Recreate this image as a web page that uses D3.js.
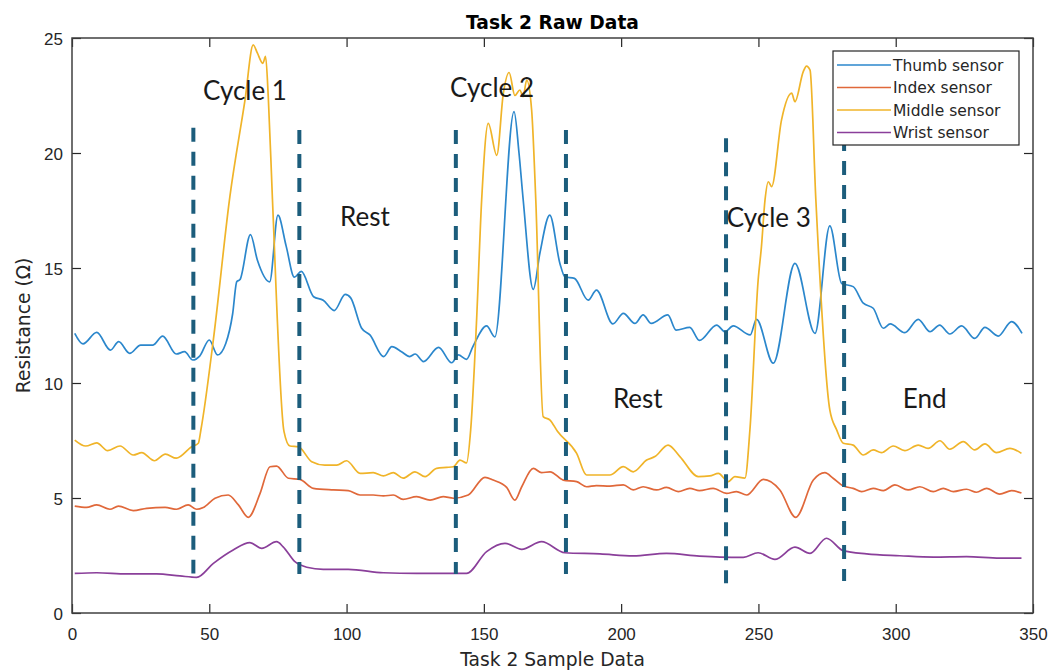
<!DOCTYPE html>
<html>
<head>
<meta charset="utf-8">
<script src="https://cdn.jsdelivr.net/npm/d3@7"></script>
<style>
  html, body { margin: 0; padding: 0; background: #fff; }
  svg { display: block; font-family: 'DejaVu Sans', sans-serif; }
</style>
</head>
<body>
<div id="chart"></div>
<script>
// values: sample index and resistance
const thumbX = [1, 4, 9, 14, 17, 21, 25, 29.5, 33, 38, 41, 44, 46.5, 50, 53, 56, 58.5, 60, 61.2, 65, 67.5, 72, 75, 78, 81, 83.5, 88, 91.5, 95.5, 99.5,
  101.5, 105.5, 108.5, 113.5, 116.5, 120, 123, 125, 128, 133.5, 138.3, 140.7, 143.7, 146, 151, 154, 161, 162.8, 164.3, 168, 170.4, 174, 177.7, 179.5,
  183, 188, 191, 197, 200.8, 205, 208, 211, 217, 220, 225, 228.5, 234.8, 237.8, 240.8, 247, 249.3, 255.4, 263.3, 270.6, 276, 280.3, 284.5, 288.2,
  291.8, 295.5, 298, 303.3, 308.2, 312.5, 316, 319.7, 324, 328.8, 332.5, 337.3, 342.2, 346]
const thumbY = [12.16, 11.7, 12.2, 11.43, 11.8, 11.29, 11.65, 11.65, 12.04, 11.26, 11.36, 11.0, 11.17, 11.87, 11.22, 11.72, 13.0, 14.4, 14.5, 16.45, 15.35, 14.4, 17.3, 15.95, 14.6, 14.85, 13.75, 13.6, 13.15, 13.85,
  13.7, 12.38, 12.09, 11.15, 11.58, 11.36, 11.15, 11.26, 10.93, 11.55, 10.88, 11.22, 11.03, 11.58, 12.48, 12.0, 21.8, 20.0, 18.0, 14.07, 15.64, 17.3, 15.2, 14.62,
  14.55, 13.6, 14.04, 12.57, 13.03, 12.59, 12.96, 12.59, 12.96, 12.3, 12.42, 11.85, 12.52, 12.23, 12.48, 12.09, 12.77, 10.86, 15.2, 12.16, 16.83, 14.33, 14.19, 13.47,
  13.25, 12.38, 12.57, 12.19, 12.77, 12.23, 12.52, 12.13, 12.48, 11.94, 12.42, 12.04, 12.67, 12.16]

const indexX = [1, 5.3, 9, 13.8, 16.9, 22.3, 27.2, 33.9, 38.1, 42.3, 45.4, 47.8, 52.1, 56.9, 60.6, 64.2, 68.5, 72.1, 74.5, 78.8, 83, 87.9, 95.2, 100.6,
  104.9, 109.7, 113.4, 117, 120.6, 125.5, 130.4, 135.2, 138.9, 144.3, 150.4, 153.4, 158.3, 161.3, 163.8, 168, 171, 174.1, 178.9, 183.8, 187.4, 191,
  195.9, 200.8, 204.4, 208, 212.9, 216.5, 220.8, 225, 228.5, 233.5, 238.4, 242, 245.7, 251.8, 257.8, 263.6, 270, 274.2, 277.2, 280.9, 284.5, 287.6,
  291.8, 295.5, 299.7, 304.5, 308.8, 313.7, 317.3, 321, 325.8, 329.4, 333.1, 337.9, 342.2, 345.8]
const indexY = [4.65, 4.59, 4.7, 4.51, 4.65, 4.45, 4.55, 4.59, 4.51, 4.7, 4.51, 4.59, 4.99, 5.13, 4.7, 4.16, 5.2, 6.36, 6.39, 5.86, 5.81, 5.42, 5.35, 5.32,
  5.13, 5.13, 5.09, 5.13, 4.94, 5.06, 4.91, 5.06, 4.99, 5.13, 5.9, 5.78, 5.46, 4.91, 5.49, 6.29, 6.1, 6.14, 5.78, 5.71, 5.49, 5.54,
  5.52, 5.57, 5.35, 5.49, 5.35, 5.46, 5.28, 5.42, 5.32, 5.42, 5.2, 5.28, 5.13, 5.81, 5.35, 4.16, 5.78, 6.1, 5.86, 5.52, 5.42, 5.28,
  5.42, 5.32, 5.57, 5.35, 5.49, 5.28, 5.42, 5.28, 5.38, 5.25, 5.42, 5.17, 5.32, 5.22]

const middleX = [1, 5, 9, 13, 17.5, 22.3, 25.4, 30, 34, 38, 43.6, 46, 47, 51.5, 57.5, 63, 66, 67.5, 69.5, 70.5, 71.5, 73, 77.2, 79.4, 82.4, 87.3, 92.1, 96.4, 100,
  104.9, 109.7, 113.4, 117, 120.6, 124.9, 128.6, 132.8, 136.4, 138.9, 141.3, 143.7, 145.2, 147.3, 149.2, 151.6, 154.7, 157.1, 159.2, 161.3, 163.1, 164.3,
  165.6, 167.4, 168.9, 171.6, 174.1, 176.8, 183.8, 187.4, 195.9, 200.8, 204.4, 209.3, 212.3, 217.1, 221.4, 228.1, 232.3, 235.4, 239, 241.4, 245.1,
  246.9, 249.9, 251.1, 252.4, 253.6, 254.8, 258.4, 262.1, 263.3, 266.3, 267.5, 268.8, 270.9, 276, 278.5, 280.9, 284.5, 288.2, 291.8, 294.8, 299.1,
  303.3, 308.2, 311.8, 316.1, 319.7, 324.6, 328.8, 332.5, 336.7, 341.6, 345.8]
const middleY = [7.52, 7.26, 7.4, 7.06, 7.26, 6.87, 6.97, 6.62, 6.91, 6.73, 7.23, 7.38, 8.0, 11.9, 18.1, 22.3, 24.7, 24.35, 23.9, 24.2, 22.4, 18.0, 7.9, 7.26, 7.23, 6.58, 6.43, 6.43, 6.62,
  6.07, 6.1, 5.96, 6.1, 5.86, 6.14, 5.93, 6.29, 6.33, 6.36, 6.65, 6.53, 7.96, 12.6, 17.96, 21.29, 19.9, 22.6, 23.5, 22.5, 22.74, 22.45,
  23.17, 21.87, 18.0, 8.54, 8.39, 7.9, 6.94, 6.0, 6.0, 6.36, 6.14, 6.65, 6.8, 7.3, 6.8, 5.93, 5.96, 6.07, 5.71, 5.93, 5.86,
  7.96, 14.48, 15.93, 17.96, 18.75, 18.54, 21.43, 22.6, 22.23, 23.53, 23.78, 23.6, 18.0, 8.83, 7.96, 7.38, 7.3, 6.87, 7.09, 6.97, 7.26,
  7.06, 7.3, 7.16, 7.49, 7.12, 7.45, 7.09, 7.35, 6.97, 7.16, 6.94]

const wristX = [1, 9, 19.9, 30.8, 39.3, 45.4, 51.5, 58.7, 64.8, 69.1, 74.5, 76.9, 81.2, 85.5, 91.5, 100.6, 113.4, 125.5, 143.7, 151, 157.7, 163.8, 171,
  179.5, 192.3, 204.4, 216.5, 228.5, 236, 244.5, 249.9, 256, 263.3, 268.8, 274.8, 280.9, 289.4, 301.5, 313.7, 325.8, 337.9, 345.8]
const wristY = [1.72, 1.75, 1.7, 1.7, 1.61, 1.55, 2.16, 2.74, 3.06, 2.81, 3.1, 2.88, 2.23, 1.99, 1.9, 1.9, 1.75, 1.72, 1.72, 2.67, 3.03, 2.77, 3.1,
  2.62, 2.57, 2.48, 2.59, 2.47, 2.43, 2.42, 2.62, 2.33, 2.86, 2.59, 3.25, 2.71, 2.57, 2.49, 2.43, 2.45, 2.39, 2.39]

const seriesNames = ['Thumb sensor', 'Index sensor', 'Middle sensor', 'Wrist sensor']

// dashed phase markers
const markX = [44.2, 82.8, 139.8, 179.9, 238.2, 281.2]
const markTop = [21.1, 21.0, 21.0, 21.0, 20.64, 20.7]
const markBottom = [1.72, 1.7, 1.7, 1.7, 1.29, 1.39]

// phase annotations
const noteText = ['Cycle 1', 'Cycle 2', 'Rest', 'Rest', 'Cycle 3', 'End']
const noteX = [47.7, 137.7, 97.6, 197, 238.5, 302.6]
const noteY = [22.3, 22.43, 16.83, 8.91, 16.78, 8.91]

const xTicks = [0, 50, 100, 150, 200, 250, 300, 350]
const yTicks = [0, 5, 10, 15, 20, 25]

const width = 1055, height = 672
const margin = { top: 38, right: 22, bottom: 59, left: 72 }
const innerW = width - margin.left - margin.right
const innerH = height - margin.top - margin.bottom

const colors = ['#2b87cc', '#e0683a', '#f0b429', '#8a3f9a']
const series = [
  { name: seriesNames[0], xs: thumbX, ys: thumbY },
  { name: seriesNames[1], xs: indexX, ys: indexY },
  { name: seriesNames[2], xs: middleX, ys: middleY },
  { name: seriesNames[3], xs: wristX, ys: wristY }
]

const x = d3.scaleLinear().domain([0, 350]).range([0, innerW])
const y = d3.scaleLinear().domain([0, 25]).range([innerH, 0])

const svg = d3.select('#chart').append('svg')
  .attr('width', width)
  .attr('height', height)

const g = svg.append('g')
  .attr('transform', `translate(${margin.left},${margin.top})`)

// axes, MATLAB style: ticks pointing in, box all round
const axisColor = '#262626'
const styleAxis = sel => {
  sel.select('.domain').remove()
  sel.selectAll('.tick line').attr('stroke', axisColor).attr('stroke-width', 1.2)
  sel.selectAll('.tick text').attr('fill', axisColor).attr('font-size', 17)
}

g.append('g')
  .attr('transform', `translate(0,${innerH})`)
  .call(d3.axisBottom(x).tickValues(xTicks).tickSizeInner(-9).tickSizeOuter(0).tickPadding(15))
  .call(styleAxis)

g.append('g')
  .call(d3.axisLeft(y).tickValues(yTicks).tickSizeInner(-9).tickSizeOuter(0).tickPadding(9))
  .call(styleAxis)
  .selectAll('.tick text').attr('dy', '0.4em')

g.append('g')
  .call(d3.axisTop(x).tickValues(xTicks).tickSizeInner(-9).tickSizeOuter(0).tickFormat(''))
  .call(styleAxis)

g.append('g')
  .attr('transform', `translate(${innerW},0)`)
  .call(d3.axisRight(y).tickValues(yTicks).tickSizeInner(-9).tickSizeOuter(0).tickFormat(''))
  .call(styleAxis)

g.append('rect')
  .attr('width', innerW)
  .attr('height', innerH)
  .attr('fill', 'none')
  .attr('stroke', '#404040')
  .attr('stroke-width', 1.5)

// sensor lines
const line = d3.line()
  .x(d => x(d[0]))
  .y(d => y(d[1]))
  .curve(d3.curveMonotoneX)

series.forEach((s, i) => {
  g.append('path')
    .datum(s.xs.map((v, j) => [v, s.ys[j]]))
    .attr('fill', 'none')
    .attr('stroke', colors[i])
    .attr('stroke-width', 1.7)
    .attr('stroke-linejoin', 'round')
    .attr('d', line)
})

// dashed markers
g.selectAll('.mark')
  .data(markX)
  .join('line')
    .attr('class', 'mark')
    .attr('x1', d => x(d))
    .attr('x2', d => x(d))
    .attr('y1', (d, i) => y(markTop[i]))
    .attr('y2', (d, i) => y(markBottom[i]))
    .attr('stroke', '#1c5d7c')
    .attr('stroke-width', 4)
    .attr('stroke-dasharray', '14,10')

// annotations
g.selectAll('.note')
  .data(noteText)
  .join('text')
    .attr('class', 'note')
    .attr('x', (d, i) => x(noteX[i]))
    .attr('y', (d, i) => y(noteY[i]))
    .attr('font-family', 'Lato, sans-serif')
    .attr('font-size', 26)
    .attr('fill', '#1a1a1a')
    .text(d => d)

// legend
const legend = svg.append('g').attr('transform', 'translate(833,51)')
legend.append('rect')
  .attr('width', 186)
  .attr('height', 94)
  .attr('fill', '#fff')
  .attr('stroke', axisColor)
  .attr('stroke-width', 1.2)

const rows = legend.selectAll('.row')
  .data(series)
  .join('g')
    .attr('transform', (d, i) => `translate(0,${14 + i * 22.5})`)

rows.append('line')
  .attr('x1', 4).attr('x2', 58)
  .attr('stroke', (d, i) => colors[i])
  .attr('stroke-width', 1.7)

rows.append('text')
  .attr('x', 60)
  .attr('dy', '0.36em')
  .attr('font-size', 15.5)
  .attr('fill', axisColor)
  .text(d => d.name)

// title and axis labels
svg.append('text')
  .attr('x', margin.left + innerW / 2)
  .attr('y', 29)
  .attr('text-anchor', 'middle')
  .attr('font-size', 18.7)
  .attr('font-weight', 'bold')
  .attr('fill', '#000')
  .text('Task 2 Raw Data')

svg.append('text')
  .attr('x', margin.left + innerW / 2)
  .attr('y', 666)
  .attr('text-anchor', 'middle')
  .attr('font-size', 18.7)
  .attr('fill', axisColor)
  .text('Task 2 Sample Data')

svg.append('text')
  .attr('transform', `translate(30,${margin.top + innerH / 2}) rotate(-90)`)
  .attr('text-anchor', 'middle')
  .attr('font-size', 18.7)
  .attr('fill', axisColor)
  .text('Resistance (Ω)')
</script>
</body>
</html>
